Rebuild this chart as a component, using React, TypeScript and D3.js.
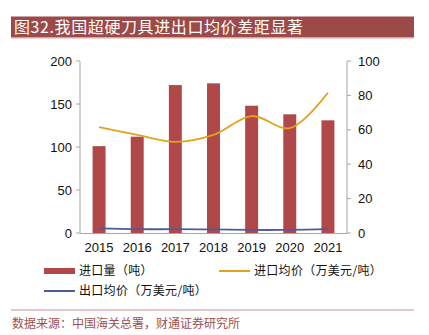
import React from "react";
import * as d3 from "d3";

const years = ["2015", "2016", "2017", "2018", "2019", "2020", "2021"];
const importVolume = [101, 112, 172, 174, 148, 138, 131];
const importPrice = [61.5, 57, 53, 57, 68, 61, 81.5];
const exportPrice = [2.7, 2.2, 2.2, 2.1, 1.8, 1.8, 2.2];
const leftTicks = [0, 50, 100, 150, 200];
const rightTicks = [0, 20, 40, 60, 80, 100];

const W = 429, H = 335;
const left = 80, right = 347, top = 61, bottom = 233;
const cjk = "'Noto Sans CJK SC', sans-serif";
const latin = "'Liberation Sans', Arial, sans-serif";

export default function App() {
  const x = d3.scaleBand<string>().domain(years).range([left, right]).paddingInner(0.66).paddingOuter(0.33);
  const yL = d3.scaleLinear().domain([0, 200]).range([bottom, top]);
  const yR = d3.scaleLinear().domain([0, 100]).range([bottom, top]);
  const cx = (d: string) => (x(d) as number) + x.bandwidth() / 2;
  const lineImp = d3.line<number>().x((_, i) => cx(years[i])).y((d) => yR(d)).curve(d3.curveCatmullRom.alpha(0.5));
  const lineExp = d3.line<number>().x((_, i) => cx(years[i])).y((d) => yR(d)).curve(d3.curveCatmullRom.alpha(0.5));
  const axisColor = "#a6a6a6";
  return (
    <svg width={W} height={H} style={{ position: "absolute", left: 0, top: 0 }}>
      <rect x={0} y={0} width={W} height={H} fill="#fff" />
      <rect x={11} y={16.5} width={403} height={21} fill="#9b4a47" />
      <line x1={11} x2={414} y1={38} y2={38} stroke="#d9a9a7" strokeWidth={1} />
      <text x={14} y={33} fill="#fff" fontSize={16} letterSpacing={0.6} fontFamily={cjk}>图32.我国超硬刀具进出口均价差距显著</text>

      {/* axes */}
      <line x1={left} x2={left} y1={top} y2={bottom} stroke={axisColor} />
      <line x1={right} x2={right} y1={top} y2={bottom} stroke={axisColor} />
      <line x1={left} x2={right} y1={bottom + 0.5} y2={bottom + 0.5} stroke={axisColor} />
      {leftTicks.map((t) => (
        <g key={"l" + t}>
          <line x1={left - 4} x2={left} y1={yL(t)} y2={yL(t)} stroke={axisColor} />
          <text x={left - 8} y={yL(t) + 4.5} textAnchor="end" fontSize={13} fontFamily={latin} fill="#111">{t}</text>
        </g>
      ))}
      {rightTicks.map((t) => (
        <g key={"r" + t}>
          <line x1={right} x2={right + 4} y1={yR(t)} y2={yR(t)} stroke={axisColor} />
          <text x={right + 11} y={yR(t) + 4.5} textAnchor="start" fontSize={13} fontFamily={latin} fill="#111">{t}</text>
        </g>
      ))}
      {years.map((y) => (
        <text key={y} x={cx(y)} y={252} textAnchor="middle" fontSize={13} fontFamily={latin} fill="#111">{y}</text>
      ))}

      {years.map((y, i) => (
        <rect key={"b" + y} x={x(y)} y={yL(importVolume[i])} width={x.bandwidth()} height={bottom - yL(importVolume[i])} fill="#b0484a" />
      ))}
      <path d={lineImp(importPrice) || ""} fill="none" stroke="#e3a21a" strokeWidth={1.8} />
      <path d={lineExp(exportPrice) || ""} fill="none" stroke="#4f5a9a" strokeWidth={1.8} />

      {/* legend */}
      <rect x={44} y={268} width={31} height={6} fill="#b0484a" />
      <text x={79} y={275} fontSize={12} letterSpacing={0.3} fontFamily={cjk} fill="#111">进口量（吨）</text>
      <line x1={219} x2={250} y1={271} y2={271} stroke="#e3a21a" strokeWidth={2} />
      <text x={254} y={275} fontSize={12} letterSpacing={0.3} fontFamily={cjk} fill="#111">进口均价（万美元/吨）</text>
      <line x1={44} x2={75} y1={291} y2={291} stroke="#4f5a9a" strokeWidth={2} />
      <text x={79} y={295} fontSize={12} letterSpacing={0.3} fontFamily={cjk} fill="#111">出口均价（万美元/吨）</text>

      <line x1={11} x2={414} y1={310} y2={310} stroke="#c98f8d" strokeWidth={1} />
      <text x={12} y={328} fontSize={12} fontFamily={cjk} fill="#a0504d">数据来源：中国海关总署，财通证券研究所</text>
    </svg>
  );
}
